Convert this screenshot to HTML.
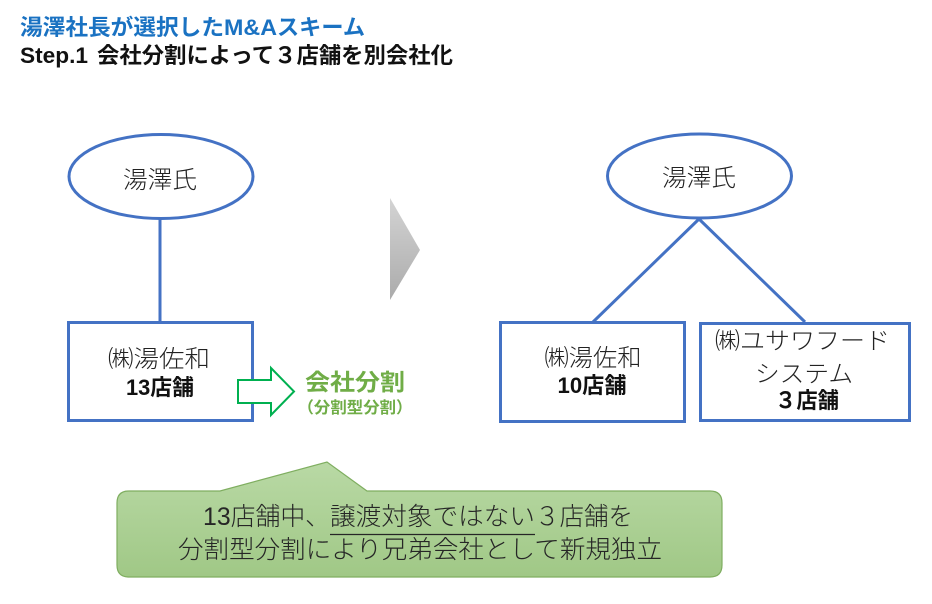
<!DOCTYPE html>
<html>
<head>
<meta charset="utf-8">
<style>
  html, body { margin:0; padding:0; background:#ffffff; }
  body { width:932px; height:604px; overflow:hidden; }
  svg { display:block; }
  .jp { font-family: "Liberation Sans", "Noto Sans CJK JP", sans-serif; }
  .lt { font-weight: 300; }
</style>
</head>
<body>
<svg width="932" height="604" viewBox="0 0 932 604" xmlns="http://www.w3.org/2000/svg">
  <defs>
    <linearGradient id="gray" x1="0" y1="0" x2="0" y2="1">
      <stop offset="0" stop-color="#d4d4d4"/>
      <stop offset="1" stop-color="#ababab"/>
    </linearGradient>
    <linearGradient id="green" x1="0" y1="0" x2="0" y2="1">
      <stop offset="0" stop-color="#b9d9a5"/>
      <stop offset="1" stop-color="#a0c886"/>
    </linearGradient>
  </defs>

  <!-- Title -->
  <g class="jp" font-weight="bold" font-size="22" fill="#1a72c2">
    <text x="20" y="35" textLength="204" lengthAdjust="spacingAndGlyphs">湯澤社長が選択した</text>
    <text x="224" y="35" textLength="53" lengthAdjust="spacingAndGlyphs">M&amp;A</text>
    <text x="277" y="35" textLength="88" lengthAdjust="spacingAndGlyphs">スキーム</text>
  </g>
  <g class="jp" font-weight="bold" font-size="22" fill="#111111">
    <text x="20" y="63" textLength="68" lengthAdjust="spacingAndGlyphs">Step.1</text>
    <text x="97" y="63" textLength="356" lengthAdjust="spacingAndGlyphs">会社分割によって３店舗を別会社化</text>
  </g>

  <!-- Left diagram -->
  <line x1="160" y1="219" x2="160" y2="321" stroke="#4472c4" stroke-width="3"/>
  <ellipse cx="161" cy="176.5" rx="92" ry="42" fill="#ffffff" stroke="#4472c4" stroke-width="3"/>
  <text class="jp lt" x="160" y="188" font-size="24" text-anchor="middle" fill="#222" textLength="74" lengthAdjust="spacingAndGlyphs">湯澤氏</text>

  <rect x="68.5" y="322.5" width="184" height="98" fill="#ffffff" stroke="#4472c4" stroke-width="3"/>
  <text class="jp lt" x="159" y="367" font-size="24" text-anchor="middle" fill="#222" textLength="102" lengthAdjust="spacingAndGlyphs">㈱湯佐和</text>
  <text class="jp" x="160" y="395" font-size="22" font-weight="bold" text-anchor="middle" fill="#111" textLength="68" lengthAdjust="spacingAndGlyphs">13店舗</text>

  <!-- Green arrow -->
  <polygon points="238,380 271,380 271,368 294,391.5 271,415 271,403 238,403" fill="#ffffff" stroke="#00b050" stroke-width="2"/>
  <text class="jp" x="355" y="390" font-size="23" font-weight="bold" text-anchor="middle" fill="#70ad47" textLength="100" lengthAdjust="spacingAndGlyphs">会社分割</text>
  <text class="jp" x="355" y="413" font-size="16" font-weight="bold" text-anchor="middle" fill="#70ad47" textLength="115" lengthAdjust="spacingAndGlyphs">（分割型分割）</text>

  <!-- Gray triangle -->
  <polygon points="390,198 420,250 390,300" fill="url(#gray)"/>

  <!-- Right diagram -->
  <line x1="699" y1="219" x2="593" y2="322" stroke="#4472c4" stroke-width="3"/>
  <line x1="699" y1="219" x2="805" y2="322" stroke="#4472c4" stroke-width="3"/>
  <ellipse cx="699.5" cy="176" rx="92" ry="42" fill="#ffffff" stroke="#4472c4" stroke-width="3"/>
  <text class="jp lt" x="699" y="186" font-size="24" text-anchor="middle" fill="#222" textLength="74" lengthAdjust="spacingAndGlyphs">湯澤氏</text>

  <rect x="500.5" y="322.5" width="184" height="99" fill="#ffffff" stroke="#4472c4" stroke-width="3"/>
  <text class="jp lt" x="593" y="366" font-size="24" text-anchor="middle" fill="#222" textLength="97" lengthAdjust="spacingAndGlyphs">㈱湯佐和</text>
  <text class="jp" x="592" y="393" font-size="22" font-weight="bold" text-anchor="middle" fill="#111" textLength="69" lengthAdjust="spacingAndGlyphs">10店舗</text>

  <rect x="700.5" y="323.5" width="209" height="97" fill="#ffffff" stroke="#4472c4" stroke-width="3"/>
  <text class="jp lt" x="802.5" y="349" font-size="24" text-anchor="middle" fill="#222" textLength="175" lengthAdjust="spacingAndGlyphs">㈱ユサワフード</text>
  <text class="jp lt" x="804" y="382" font-size="24" text-anchor="middle" fill="#222" textLength="98" lengthAdjust="spacingAndGlyphs">システム</text>
  <text class="jp" x="807" y="408" font-size="22" font-weight="bold" text-anchor="middle" fill="#111" textLength="64" lengthAdjust="spacingAndGlyphs">３店舗</text>

  <!-- Callout -->
  <path d="M129,491 L220,491 L327,462 L367,491 L710,491 Q722,491 722,503 L722,565 Q722,577 710,577 L129,577 Q117,577 117,565 L117,503 Q117,491 129,491 Z"
        fill="url(#green)" stroke="#7fae60" stroke-width="1.2"/>
  <g class="jp lt" font-size="25" fill="#262626">
    <text x="203" y="525" textLength="127" lengthAdjust="spacingAndGlyphs">13店舗中、</text>
    <text x="330" y="525" textLength="205" lengthAdjust="spacingAndGlyphs">譲渡対象ではない</text>
    <text x="535" y="525" textLength="98" lengthAdjust="spacingAndGlyphs">３店舗を</text>
    <text x="178" y="558" textLength="484" lengthAdjust="spacingAndGlyphs">分割型分割により兄弟会社として新規独立</text>
  </g>
  <line x1="330" y1="534.5" x2="535" y2="534.5" stroke="#262626" stroke-width="1.3"/>
</svg>
</body>
</html>
